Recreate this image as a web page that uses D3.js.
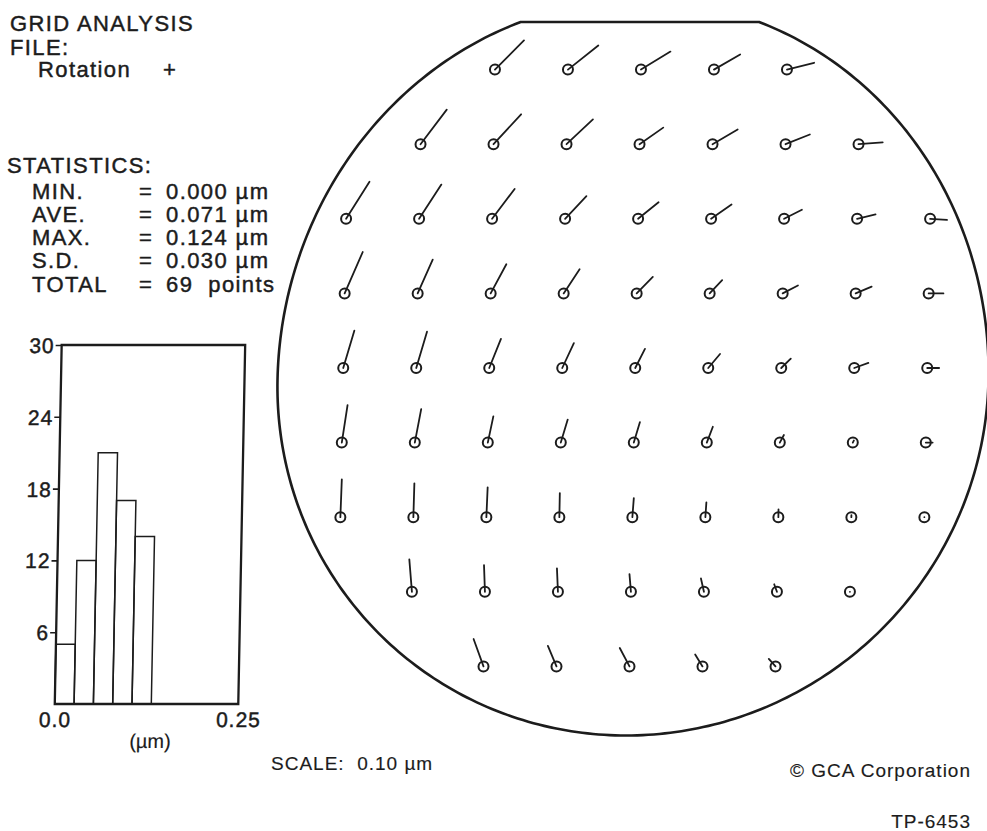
<!DOCTYPE html>
<html>
<head>
<meta charset="utf-8">
<script src="https://cdn.jsdelivr.net/npm/d3@7"></script>
<style>
  html, body { margin: 0; padding: 0; background: #fff; }
  svg { display: block; }
  text {
    font-family: "Liberation Sans", Arial, Helvetica, sans-serif;
    fill: #1c1c1c;
    stroke: #1c1c1c;
    stroke-width: 0.45px;
  }
  text.light { stroke-width: 0.15px; }
</style>
</head>
<body>
<svg id="chart" width="987" height="831"></svg>
<script>
// ---- Wafer grid: rows of sites, top row first (row offset from wafer centre row)
const rowOffsets = [-4, -3, -2, -1, 0, 1, 2, 3, 4];
const rowFirstColumn = [-2, -3, -4, -4, -4, -4, -4, -3, -2];

// Placement error per site, in µm (x to the right, y upward)
const errorX = [
  [0.079, 0.083, 0.081, 0.072, 0.075],
  [0.071, 0.075, 0.072, 0.065, 0.069, 0.067, 0.067],
  [0.063, 0.060, 0.061, 0.058, 0.056, 0.056, 0.049, 0.051, 0.047],
  [0.048, 0.040, 0.042, 0.043, 0.044, 0.034, 0.042, 0.044, 0.041],
  [0.029, 0.028, 0.031, 0.031, 0.026, 0.032, 0.026, 0.039, 0.033],
  [0.014, 0.016, 0.014, 0.018, 0.016, 0.016, 0.011, 0.003, 0.019],
  [0.002, 0.001, 0.002, 0.000, 0.003, 0.002, 0.000, 0.000, 0.000],
  [-0.009, -0.004, -0.004, -0.005, -0.009, -0.008, 0.000],
  [-0.029, -0.025, -0.028, -0.021, -0.019]
];
const errorY = [
  [0.081, 0.067, 0.050, 0.042, 0.019],
  [0.096, 0.083, 0.069, 0.046, 0.041, 0.027, 0.005],
  [0.103, 0.095, 0.083, 0.063, 0.046, 0.040, 0.025, 0.012, -0.003],
  [0.115, 0.094, 0.081, 0.067, 0.046, 0.037, 0.022, 0.019, 0.000],
  [0.104, 0.101, 0.081, 0.069, 0.053, 0.039, 0.026, 0.014, 0.000],
  [0.104, 0.093, 0.073, 0.064, 0.057, 0.044, 0.021, 0.006, 0.000],
  [0.105, 0.094, 0.083, 0.067, 0.053, 0.041, 0.022, 0.006, 0.000],
  [0.090, 0.074, 0.065, 0.049, 0.037, 0.021, 0.000],
  [0.076, 0.057, 0.051, 0.033, 0.021]
];

// ---- Histogram of error magnitudes
const binEdges = [0, 0.0263, 0.0526, 0.0789, 0.1052, 0.1315];
const binCounts = [5, 12, 21, 17, 14];
const countTicks = [6, 12, 18, 24, 30];
const sizeTicks = [0, 0.25];
const sizeTickLabels = ["0.0", "0.25"];

// ---- Header and statistics text
const headerLines = ["GRID ANALYSIS", "FILE:"];
const fileName = "Rotation";
const fileMark = "+";
const statLabels = ["MIN.", "AVE.", "MAX.", "S.D.", "TOTAL"];
const statValues = ["0.000 \u00b5m", "0.071 \u00b5m", "0.124 \u00b5m", "0.030 \u00b5m", "69  points"];
const scaleNote = "SCALE:  0.10 \u00b5m";
const creditNote = "\u00a9 GCA Corporation";
const figureId = "TP-6453";

const ink = "#1c1c1c";
const svg = d3.select("#chart");

// The whole plotted sheet leans slightly (a shear of about one degree)
const sheet = svg.append("g")
  .attr("transform", "translate(0,380) skewX(-1.1) translate(0,-380)");

// ---------------- Wafer map ----------------
const colX = d3.scaleLinear().domain([-4, 4]).range([343, 927]);
const rowY = d3.scaleLinear().domain([-4, 4]).range([69.6, 666.4]);
const vecLen = d3.scaleLinear().domain([0, 0.1]).range([0, 36]); // SCALE: 0.10 µm

// Outline: round wafer with a flat on top
const outline = { cx: 633, cy: 380, rx: 355.5, ryTop: 380, ryBottom: 355.5, flatY: 22 };
const t0 = Math.asin((outline.cy - outline.flatY) / outline.ryTop);
const outlinePts = d3.range(0, 361).map(i => {
  const t = t0 - (i / 360) * (Math.PI + 2 * t0);
  const s = Math.sin(t);
  const ry = s >= 0 ? outline.ryTop : outline.ryBottom;
  return [outline.cx + outline.rx * Math.cos(t), outline.cy - ry * s];
});
sheet.append("path")
  .attr("d", d3.line()(outlinePts) + "Z")
  .attr("fill", "none")
  .attr("stroke", ink)
  .attr("stroke-width", 2.6)
  .attr("stroke-linejoin", "round");

const sites = [];
rowOffsets.forEach((r, ri) => {
  errorX[ri].forEach((ex, ci) => {
    sites.push({ row: r, col: rowFirstColumn[ri] + ci, ex: ex, ey: errorY[ri][ci] });
  });
});

const siteG = sheet.append("g").selectAll("g").data(sites).join("g")
  .attr("transform", d => `translate(${colX(d.col)},${rowY(d.row)})`);

siteG.append("line")
  .attr("x1", 0).attr("y1", 0)
  .attr("x2", d => vecLen(d.ex))
  .attr("y2", d => -vecLen(d.ey))
  .attr("stroke", ink)
  .attr("stroke-width", 1.8)
  .attr("stroke-linecap", "round");

siteG.append("circle")
  .attr("r", 5)
  .attr("fill", "none")
  .attr("stroke", ink)
  .attr("stroke-width", 2);

// ---------------- Histogram ----------------
const hx = d3.scaleLinear().domain([0, 0.25]).range([61, 244.5]);
const hy = d3.scaleLinear().domain([0, 30]).range([704, 345]);
const hist = sheet.append("g");

hist.selectAll("rect.bar").data(binCounts).join("rect")
  .attr("class", "bar")
  .attr("x", (d, i) => hx(binEdges[i]))
  .attr("width", (d, i) => hx(binEdges[i + 1]) - hx(binEdges[i]))
  .attr("y", d => hy(d))
  .attr("height", d => hy(0) - hy(d))
  .attr("fill", "none")
  .attr("stroke", ink)
  .attr("stroke-width", 1.5);

hist.append("rect")
  .attr("x", hx(0)).attr("y", hy(30))
  .attr("width", hx(0.25) - hx(0)).attr("height", hy(0) - hy(30))
  .attr("fill", "none")
  .attr("stroke", ink)
  .attr("stroke-width", 2.3);

const yAxis = hist.append("g")
  .attr("transform", `translate(${hx(0)},0)`)
  .call(d3.axisLeft(hy).tickValues(countTicks).tickSize(6).tickPadding(1));
yAxis.select(".domain").remove();
yAxis.selectAll("line").attr("stroke", ink).attr("stroke-width", 1.6);
yAxis.selectAll("text")
  .attr("font-size", 21).attr("letter-spacing", 1).attr("fill", ink)
  .attr("dy", "0.36em");

const xAxis = hist.append("g")
  .attr("transform", `translate(0,${hy(0)})`)
  .call(d3.axisBottom(hx).tickValues(sizeTicks).tickSize(0).tickPadding(8)
    .tickFormat((d, i) => sizeTickLabels[i]));
xAxis.select(".domain").remove();
xAxis.selectAll("text")
  .attr("font-size", 21).attr("letter-spacing", 1).attr("fill", ink)
  .attr("dy", "0.71em");

hist.append("text")
  .attr("class", "light")
  .attr("x", 157).attr("y", 748)
  .attr("text-anchor", "middle")
  .attr("font-size", 20)
  .text("(\u00b5m)");

// ---------------- Text block ----------------
const txt = svg.append("g").attr("font-size", 22).attr("letter-spacing", 1.4);

txt.selectAll("text.head").data(headerLines).join("text")
  .attr("class", "head")
  .attr("x", 10)
  .attr("y", (d, i) => 30.5 + i * 24.5)
  .text(d => d);
txt.append("text").attr("x", 38).attr("y", 77).text(fileName);
txt.append("text").attr("x", 163).attr("y", 77).text(fileMark);

txt.append("text").attr("x", 7).attr("y", 173).text("STATISTICS:");
const statY = d3.scaleLinear().domain([0, 4]).range([198.5, 291.5]);
txt.selectAll("text.slabel").data(statLabels).join("text")
  .attr("class", "slabel").attr("x", 32).attr("y", (d, i) => statY(i)).text(d => d);
txt.selectAll("text.seq").data(statLabels).join("text")
  .attr("class", "seq").attr("x", 139).attr("y", (d, i) => statY(i)).text("=");
txt.selectAll("text.sval").data(statValues).join("text")
  .attr("class", "sval").attr("x", 166).attr("y", (d, i) => statY(i))
  .style("white-space", "pre").text(d => d);

// Footer notes
svg.append("text").attr("class", "light").attr("x", 271).attr("y", 770)
  .attr("font-size", 19).attr("letter-spacing", 1)
  .style("white-space", "pre").text(scaleNote);
svg.append("text").attr("class", "light").attr("x", 971).attr("y", 777).attr("text-anchor", "end")
  .attr("font-size", 19).attr("letter-spacing", 1).text(creditNote);
svg.append("text").attr("class", "light").attr("x", 971).attr("y", 828).attr("text-anchor", "end")
  .attr("font-size", 19).attr("letter-spacing", 1).text(figureId);
</script>
</body>
</html>
